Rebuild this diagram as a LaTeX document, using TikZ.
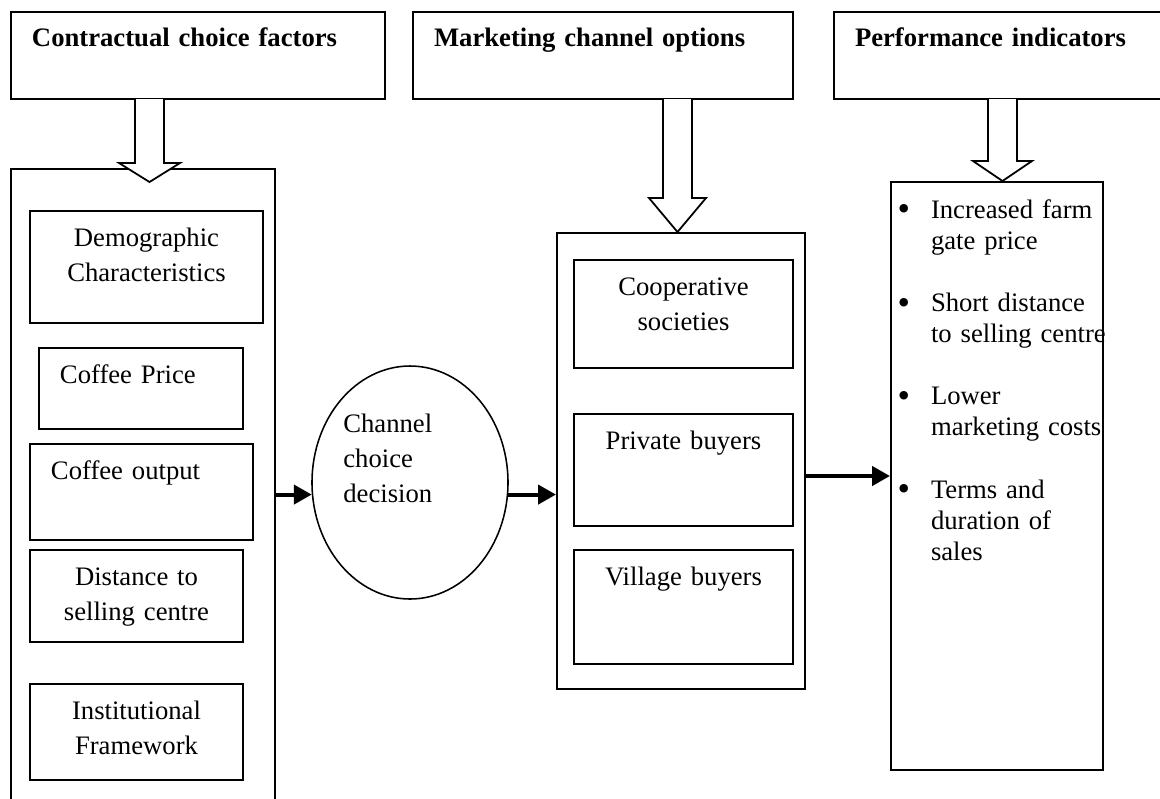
\documentclass[tikz,border=0pt]{standalone}
\usepackage{fontspec}
\setmainfont{Liberation Serif}
\usetikzlibrary{arrows.meta,shapes.geometric}

\tikzset{
    box/.style={draw, line width=.9pt, anchor=north west, inner sep=0pt, text height=15.75pt},
    ttl/.style={box, font=\fontsize{12}{15.75}\selectfont\bfseries, align=left,
        inner xsep=9.45pt, text height=15.3pt, text depth=23.85pt},
    flow/.style={line width=1.8pt, -{Triangle[length=8pt,width=8.5pt]}},
    hollow/.style={fill=white, draw=black, line width=.8pt},
}

% x centre, top, head base, tip, head half width
\newcommand{\blockarrow}[5]{%
    \filldraw[hollow] (#1-14.5,#2) -- (#1-14.5,#3) -- (#1-#5,#3) -- (#1,#4)
        -- (#1+#5,#3) -- (#1+14.5,#3) -- (#1+14.5,#2);}
\newcommand{\pbul}{\makebox[18pt][l]{\hspace{3pt}\raisebox{-1.3pt}{\fontsize{16}{14}\selectfont\textbullet}}}
\newcommand{\pcont}{\hspace*{18pt}}

\begin{document}
\begin{tikzpicture}[x=.45pt, y=-.45pt, font=\fontsize{12}{15.75}\selectfont]

\useasboundingbox (0,0) rectangle (1160,798);

% headings
\node[ttl, text width=149.4pt] (t1) at (10,11) {Contractual choice factors};
\node[ttl, text width=152.1pt] (t2) at (412,11) {Marketing channel options};
\node[ttl, text width=132.75pt] (t3) at (833,11) {Performance indicators};

% containers
\node[box, minimum width=118.8pt, minimum height=288.9pt] (fac) at (10,168) {};
\node[box, minimum width=111.6pt, minimum height=205.2pt] (opt) at (556,232) {};

% choice factors
\node[box, text width=104.85pt, align=center, text depth=34.65pt] (demo) at (29,210) {Demographic\\Characteristics};
\node[box, text width=72.9pt, inner xsep=9.45pt, align=left, text depth=20.7pt] (price) at (38,347) {Coffee Price};
\node[box, text width=81.45pt, inner xsep=9.45pt, align=left, text depth=27.45pt] (output) at (29,443) {Coffee output};
\node[box, text width=95.85pt, align=center, text depth=25.65pt] (dist) at (29,549) {Distance to\\selling centre};
\node[box, text width=95.85pt, align=center, text depth=27.45pt] (inst) at (29,683) {Institutional\\Framework};

% channel options
\node[box, text width=98.55pt, align=center, text depth=32.85pt] (coop) at (573,259) {Cooperative\\societies};
\node[box, text width=98.55pt, align=center, text depth=34.65pt] (priv) at (573,413) {Private buyers};
\node[box, text width=98.55pt, align=center, text depth=35.55pt] (vill) at (573,549) {Village buyers};

\node[
    draw, ellipse, line width=.7pt, inner sep=0pt,
    minimum width=88.2pt, minimum height=104.85pt,
    text width=60pt, align=left, text height=6.75pt, text depth=52.2pt
] (dec) at (410,482.5) {Channel\\choice\\decision};

\node[
    box, text width=95.4pt, align=left, font=\fontsize{12}{14}\selectfont,
    text height=16.2pt, text depth=248.4pt
] (ind) at (890,181) {%
    \pbul Increased farm\\
    \pcont gate price\\[14pt]
    \pbul Short distance\\
    \pcont\mbox{to selling centre}\\[14pt]
    \pbul Lower\\
    \pcont\mbox{marketing costs}\\[14pt]
    \pbul Terms and\\
    \pcont duration of\\
    \pcont sales};

\draw[flow] (fac.east |- dec.187) -- (dec.187);
\draw[flow] (dec.353) -- (opt.west |- dec.353);
\draw[flow] (opt.east |- ind.west) -- (ind.west);

\blockarrow{149.5}{99}{163}{182}{30.5}
\blockarrow{677.5}{99}{198}{232}{28.5}
\blockarrow{1002.5}{99}{161}{181}{29.5}

\end{tikzpicture}
\end{document}
